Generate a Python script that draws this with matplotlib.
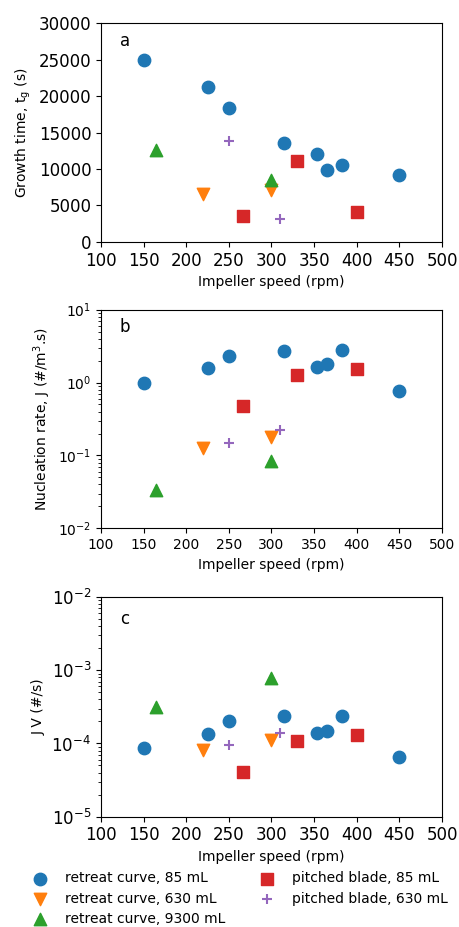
import matplotlib
matplotlib.use("Agg")
import matplotlib.pyplot as plt

# retreat curve, 85 mL
rc85_x = [150, 225, 250, 315, 353, 365, 383, 450]
rc85_tg = [24900, 21300, 18300, 13600, 12100, 9850, 10500, 9150]
rc85_J = [1.0, 1.57, 2.33, 2.75, 1.62, 1.79, 2.78, 0.77]
rc85_JV = [8.7e-5, 1.35e-4, 2.0e-4, 2.37e-4, 1.38e-4, 1.5e-4, 2.39e-4, 6.6e-5]

# retreat curve, 630 mL
rc630_x = [220, 300]
rc630_tg = [6550, 7100]
rc630_J = [0.126, 0.179]
rc630_JV = [8.1e-5, 1.12e-4]

# retreat curve, 9300 mL
rc9300_x = [165, 300]
rc9300_tg = [12600, 8450]
rc9300_J = [0.0335, 0.083]
rc9300_JV = [3.14e-4, 7.8e-4]

# pitched blade, 85 mL
pb85_x = [267, 330, 400]
pb85_tg = [3600, 11050, 4150]
pb85_J = [0.478, 1.25, 1.51]
pb85_JV = [4.1e-5, 1.09e-4, 1.3e-4]

# pitched blade, 630 mL
pb630_x = [250, 310]
pb630_tg = [13850, 3200]
pb630_J = [0.147, 0.221]
pb630_JV = [9.5e-5, 1.41e-4]

series = [
    ("retreat curve, 85 mL", "o", "tab:blue", rc85_x, rc85_tg, rc85_J, rc85_JV),
    ("retreat curve, 630 mL", "v", "tab:orange", rc630_x, rc630_tg, rc630_J, rc630_JV),
    ("retreat curve, 9300 mL", "^", "tab:green", rc9300_x, rc9300_tg, rc9300_J, rc9300_JV),
    ("pitched blade, 85 mL", "s", "tab:red", pb85_x, pb85_tg, pb85_J, pb85_JV),
    ("pitched blade, 630 mL", "+", "tab:purple", pb630_x, pb630_tg, pb630_J, pb630_JV),
]

fig = plt.figure(figsize=(4.59, 9.27), dpi=100)
left, width = 0.220, 0.743
ax1 = fig.add_axes([left, 0.739, width, 0.236])
ax2 = fig.add_axes([left, 0.430, width, 0.236])
ax3 = fig.add_axes([left, 0.119, width, 0.237])

for label, mk, col, x, tg, J, JV in series:
    kw = dict(marker=mk, color=col, s=80, label=label)
    if mk == "+":
        kw["linewidths"] = 1.5
        kw["s"] = 60
    ax1.scatter(x, tg, **kw)
    ax2.scatter(x, J, **kw)
    ax3.scatter(x, JV, **kw)

for ax in (ax1, ax2, ax3):
    ax.set_xlim(100, 500)
    ax.set_xticks(range(100, 501, 50))
    ax.set_xlabel("Impeller speed (rpm)", fontsize=10)

ax1.set_ylim(0, 30000)
ax1.set_yticks(range(0, 30001, 5000))
ax1.tick_params(labelsize=12)
ax1.set_ylabel(r"Growth time, t$_\mathrm{g}$ (s)", fontsize=10)
ax1.text(0.055, 0.92, "a", transform=ax1.transAxes, fontsize=12, va="center")

ax2.set_yscale("log")
ax2.set_ylim(1e-2, 1e1)
ax2.tick_params(labelsize=10)
ax2.set_ylabel(r"Nucleation rate, J (#/m$^3$.s)", fontsize=10)
ax2.text(0.055, 0.92, "b", transform=ax2.transAxes, fontsize=12, va="center")

ax3.set_yscale("log")
ax3.set_ylim(1e-5, 1e-2)
ax3.tick_params(labelsize=12)
ax3.set_ylabel("J V (#/s)", fontsize=10)
ax3.text(0.055, 0.90, "c", transform=ax3.transAxes, fontsize=12, va="center")

handles, labels = ax3.get_legend_handles_labels()
fig.legend(handles, labels, loc="upper center", bbox_to_anchor=(0.517, 0.066),
           ncol=2, frameon=False, fontsize=10, handletextpad=0.8,
           columnspacing=2.0, labelspacing=0.45, borderaxespad=0)

fig.savefig("out.png", dpi=100)
